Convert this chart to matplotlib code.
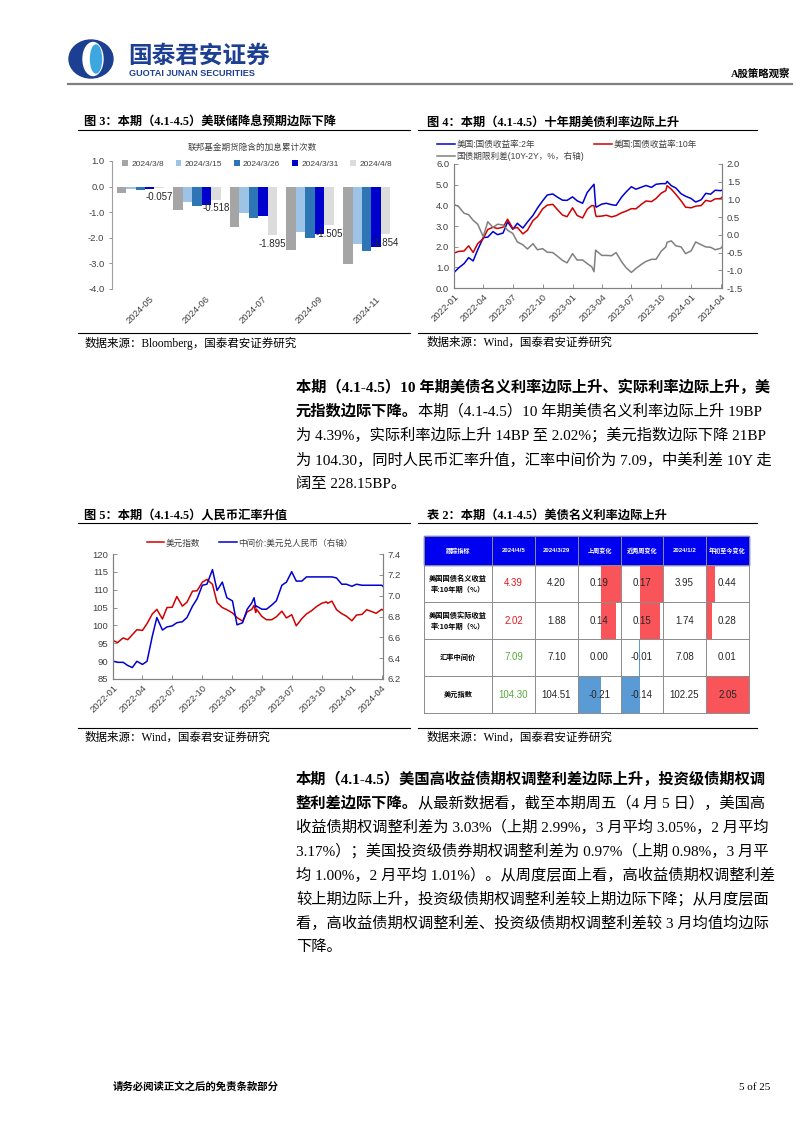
import numpy as np
import pandas as pd
import matplotlib
matplotlib.use('Agg')
import matplotlib.pyplot as plt
from matplotlib.patches import Rectangle, Ellipse
from matplotlib.ticker import FormatStrFormatter

# ------------------------------------------------------------------------------
# fonts
# ------------------------------------------------------------------------------
CJK = 'Noto Sans CJK SC'
SANS = ['Liberation Sans', CJK]
SERIF = ['Liberation Serif', CJK]
plt.rcParams['font.family'] = SANS
plt.rcParams['axes.unicode_minus'] = False

# ------------------------------------------------------------------------------
# data : fig 3 (fed funds futures, implied cumulative hikes)
# ------------------------------------------------------------------------------
fed_months = ['2024-05', '2024-06', '2024-07', '2024-09', '2024-11']
fed_dates = ['2024/3/8', '2024/3/15', '2024/3/26', '2024/3/31', '2024/4/8']
fed_0308 = [-0.25, -0.92, -1.58, -2.47, -3.04]
fed_0315 = [-0.08, -0.62, -1.05, -1.78, -2.25]
fed_0326 = [-0.13, -0.77, -1.21, -2.02, -2.50]
fed_0331 = [-0.10, -0.73, -1.15, -1.87, -2.34]
fed_0408 = [-0.057, -0.518, -1.895, -1.505, -1.854]

# ------------------------------------------------------------------------------
# data : fig 4 / fig 5 (semi-monthly readings)
# ------------------------------------------------------------------------------
dates = ['2022-01-03', '2022-01-15', '2022-02-01', '2022-02-15', '2022-03-01', '2022-03-15',
         '2022-04-01', '2022-04-15', '2022-05-01', '2022-05-15', '2022-06-01', '2022-06-15',
         '2022-07-01', '2022-07-15', '2022-08-01', '2022-08-15', '2022-09-01', '2022-09-15',
         '2022-10-01', '2022-10-15', '2022-11-01', '2022-11-15', '2022-12-01', '2022-12-15',
         '2023-01-01', '2023-01-15', '2023-02-01', '2023-02-15', '2023-03-01', '2023-03-08',
         '2023-03-13', '2023-03-15', '2023-04-01', '2023-04-15', '2023-05-01', '2023-05-15',
         '2023-06-01', '2023-06-15', '2023-07-01', '2023-07-15', '2023-08-01', '2023-08-15',
         '2023-09-01', '2023-09-15', '2023-10-01', '2023-10-15', '2023-10-19', '2023-11-01',
         '2023-11-15', '2023-12-01', '2023-12-15', '2024-01-01', '2024-01-15', '2024-02-01',
         '2024-02-15', '2024-03-01', '2024-03-15', '2024-04-01', '2024-04-05']

ust_2y = [0.78, 0.97, 1.18, 1.47, 1.31, 1.85, 2.44, 2.46, 2.73, 2.58, 2.66, 3.20,
          2.84, 3.13, 2.90, 3.19, 3.51, 3.87, 4.22, 4.50, 4.55, 4.40, 4.25, 4.24,
          4.41, 4.22, 4.10, 4.62, 4.89, 5.02, 3.98, 3.91, 4.06, 4.10, 4.03, 4.00,
          4.40, 4.65, 4.90, 4.78, 4.88, 4.96, 4.87, 5.02, 5.05, 5.05, 5.16, 4.95,
          4.84, 4.56, 4.44, 4.33, 4.16, 4.27, 4.58, 4.54, 4.73, 4.71, 4.73]
ust_10y = [1.70, 1.77, 1.79, 2.04, 1.72, 2.15, 2.39, 2.83, 2.94, 2.88, 2.94, 3.33,
           2.88, 2.93, 2.62, 2.79, 3.26, 3.45, 3.83, 4.01, 4.05, 3.80, 3.53, 3.45,
           3.88, 3.51, 3.39, 3.81, 3.99, 3.98, 3.55, 3.46, 3.48, 3.52, 3.44, 3.50,
           3.64, 3.72, 3.84, 3.83, 4.05, 4.21, 4.18, 4.33, 4.59, 4.71, 4.95, 4.78,
           4.53, 4.22, 3.91, 3.88, 3.96, 3.99, 4.24, 4.19, 4.31, 4.33, 4.39]
term_spread = [0.85, 0.80, 0.61, 0.57, 0.41, 0.30, -0.05, 0.37, 0.21, 0.30, 0.28, 0.13,
               0.04, -0.20, -0.28, -0.40, -0.25, -0.42, -0.39, -0.49, -0.50, -0.60, -0.72, -0.79,
               -0.53, -0.71, -0.71, -0.81, -0.90, -1.04, -0.43, -0.45, -0.58, -0.58, -0.59, -0.50,
               -0.76, -0.93, -1.06, -0.95, -0.83, -0.75, -0.69, -0.69, -0.46, -0.34, -0.21, -0.17,
               -0.31, -0.34, -0.53, -0.45, -0.20, -0.28, -0.34, -0.35, -0.42, -0.38, -0.34]

dxy = [95.7, 95.2, 96.5, 96.0, 97.4, 98.8, 98.6, 100.5, 103.2, 104.5, 101.8, 105.0,
       105.1, 108.1, 105.4, 106.5, 109.6, 109.7, 112.1, 112.9, 111.5, 106.4, 105.0, 104.4,
       103.5, 102.2, 101.2, 103.8, 104.5, 105.6, 103.6, 104.6, 102.5, 101.6, 101.6, 102.4,
       104.0, 102.1, 103.0, 99.9, 101.9, 103.2, 104.2, 105.3, 106.2, 106.6, 106.2, 106.8,
       104.4, 103.3, 102.6, 101.3, 102.9, 103.1, 104.4, 103.9, 103.4, 104.5, 104.3]
usdcny = [6.37, 6.36, 6.36, 6.33, 6.31, 6.37, 6.34, 6.37, 6.61, 6.79, 6.67, 6.70,
          6.71, 6.74, 6.75, 6.79, 6.90, 6.97, 7.10, 7.11, 7.25, 7.05, 7.13, 6.98,
          6.95, 6.72, 6.74, 6.87, 6.93, 6.98, 6.89, 6.90, 6.87, 6.87, 6.91, 6.95,
          7.10, 7.13, 7.23, 7.14, 7.14, 7.18, 7.18, 7.18, 7.18, 7.18, 7.18, 7.18,
          7.17, 7.11, 7.11, 7.09, 7.11, 7.10, 7.10, 7.10, 7.10, 7.10, 7.09]

# ------------------------------------------------------------------------------
# data : table 2
# ------------------------------------------------------------------------------
tbl_header = ['跟踪指标', '2024/4/5', '2024/3/29', '上周变化', '近两周变化', '2024/1/2', '年初至今变化']
tbl_names = ['美国国债名义收益\n率:10年期（%）', '美国国债实际收益\n率:10年期（%）', '汇率中间价', '美元指数']
val_0405 = [4.39, 2.02, 7.09, 104.30]
val_0329 = [4.20, 1.88, 7.10, 104.51]
chg_1w = [0.19, 0.14, 0.00, -0.21]
chg_2w = [0.17, 0.15, -0.01, -0.14]
val_0102 = [3.95, 1.74, 7.08, 102.25]
chg_ytd = [0.44, 0.28, 0.01, 2.05]
val_0405_color = ['#e8161c', '#e8161c', '#5aa83c', '#5aa83c']

# ------------------------------------------------------------------------------
# page
# ------------------------------------------------------------------------------
W, H = 802, 1133
fig = plt.figure(figsize=(W / 100, H / 100), dpi=100)


def box(x0, y0, x1, y1):
    return [x0 / W, 1 - y1 / H, (x1 - x0) / W, (y1 - y0) / H]


pg = fig.add_axes([0, 0, 1, 1])
pg.set_xlim(0, W)
pg.set_ylim(H, 0)
pg.axis('off')

# header
navy = '#1d3f92'
pg.add_patch(Ellipse((91, 59), 44, 38, color=navy))
pg.add_patch(Ellipse((93, 59), 20, 33, color='white'))
pg.add_patch(Ellipse((96, 59), 11, 28, color='#3ea7df'))
pg.text(128, 56, '国泰君安证券', family=CJK, weight='bold', fontsize=17, color=navy, va='center')
pg.text(129, 74, 'GUOTAI JUNAN SECURITIES', family='Liberation Sans', weight='bold', fontsize=6.6,
        color=navy, va='center')
pg.text(790, 74, 'A股策略观察', family=SERIF, weight='bold', fontsize=7.5, ha='right', va='center')
pg.plot([68, 792], [84, 84], color='#7f7f7f', lw=1.6)

# figure titles / sources
titles = [(84, 123, '图 3：本期（4.1-4.5）美联储降息预期边际下降'),
          (427, 123, '图 4：本期（4.1-4.5）十年期美债利率边际上升'),
          (84, 516, '图 5：本期（4.1-4.5）人民币汇率升值'),
          (427, 516, '表 2：本期（4.1-4.5）美债名义利率边际上升')]
for x, y, s in titles:
    pg.text(x, y, s, family=SERIF, weight='bold', fontsize=8.8, va='center')
for y in (130, 523, 333, 728):
    pg.plot([78, 410], [y, y], color='black', lw=0.8)
    pg.plot([418, 757], [y, y], color='black', lw=0.8)
sources = [(85, 343, '数据来源：Bloomberg，国泰君安证券研究'),
           (427, 343, '数据来源：Wind，国泰君安证券研究'),
           (85, 738, '数据来源：Wind，国泰君安证券研究'),
           (427, 738, '数据来源：Wind，国泰君安证券研究')]
for x, y, s in sources:
    pg.text(x, y, s, family=SERIF, fontsize=8.3, va='center')

# paragraphs
PX = 296
PFS = 11


def para_line(y, bold, normal=''):
    t = None
    if bold:
        t = pg.text(PX, y, bold, family=SERIF, weight='bold', fontsize=PFS, va='center')
    if normal:
        if t is None:
            pg.text(PX, y, normal, family=SERIF, fontsize=PFS, va='center')
        else:
            pg.annotate(normal, xy=(1, 0.5), xycoords=t, family=SERIF, fontsize=PFS,
                        va='center', ha='left')


para_line(387, '本期（4.1-4.5）10 年期美债名义利率边际上升、实际利率边际上升，美')
para_line(411, '元指数边际下降。', '本期（4.1-4.5）10 年期美债名义利率边际上升 19BP')
para_line(435, '', '为 4.39%，实际利率边际上升 14BP 至 2.02%；美元指数边际下降 21BP')
para_line(460, '', '为 104.30，同时人民币汇率升值，汇率中间价为 7.09，中美利差 10Y 走')
para_line(484, '', '阔至 228.15BP。')

para_line(779, '本期（4.1-4.5）美国高收益债期权调整利差边际上升，投资级债期权调')
para_line(803, '整利差边际下降。', '从最新数据看，截至本期周五（4 月 5 日），美国高')
para_line(827, '', '收益债期权调整利差为 3.03%（上期 2.99%，3 月平均 3.05%，2 月平均')
para_line(851, '', '3.17%）；美国投资级债券期权调整利差为 0.97%（上期 0.98%，3 月平')
para_line(875, '', '均 1.00%，2 月平均 1.01%）。从周度层面上看，高收益债期权调整利差')
para_line(899, '', '较上期边际上升，投资级债期权调整利差较上期边际下降；从月度层面')
para_line(923, '', '看，高收益债期权调整利差、投资级债期权调整利差较 3 月均值均边际')
para_line(947, '', '下降。')

# footer
pg.text(113, 1087, '请务必阅读正文之后的免责条款部分', family=CJK, weight='bold', fontsize=7.5, va='center')
pg.text(770, 1087, '5 of 25', family='Liberation Serif', fontsize=8, ha='right', va='center')

# ------------------------------------------------------------------------------
# fig 3 : grouped bars
# ------------------------------------------------------------------------------
ax3 = fig.add_axes(box(112, 161, 395, 289))
fed_series = [fed_0308, fed_0315, fed_0326, fed_0331, fed_0408]
fed_colors = ['#a5a5a5', '#9dc3e6', '#2e75b6', '#0000cc', '#dcdcdc']
xc = np.arange(len(fed_months)) + 0.5
bw = 0.167
for i, (vals, c, lab) in enumerate(zip(fed_series, fed_colors, fed_dates)):
    ax3.bar(xc + (i - 2) * bw, vals, bw, color=c, label=lab)
for x, v in zip(xc + 2 * bw, fed_0408):
    ax3.annotate('%.3f' % v, (x, v), xytext=(0, -2.5), textcoords='offset points',
                 ha='center', va='top', fontsize=7, color='#262626')
ax3.set_xlim(0, 5)
ax3.set_ylim(-4, 1)
ax3.set_yticks(np.arange(-4, 1.1, 1))
ax3.yaxis.set_major_formatter(FormatStrFormatter('%.1f'))
ax3.set_xticks(xc + 0.15)
ax3.set_xticklabels(fed_months, rotation=45, ha='right', rotation_mode='anchor')
ax3.tick_params(axis='x', length=0, labelsize=6.8, labelcolor='#404040', pad=4)
ax3.tick_params(axis='y', length=2, width=0.6, color='#808080', labelsize=6.8, labelcolor='#404040')
for s in ('top', 'right', 'bottom'):
    ax3.spines[s].set_visible(False)
ax3.spines['left'].set_color('#a0a0a0')
ax3.set_facecolor('none')
ax3.legend(ncol=5, loc='center', bbox_to_anchor=(257 / W, 1 - 164 / H), bbox_transform=fig.transFigure,
           frameon=False, fontsize=6, handlelength=0.7, handleheight=0.7, handletextpad=0.4,
           columnspacing=1.4, labelcolor='#404040')
pg.text(252, 147, '联邦基金期货隐含的加息累计次数', family=CJK, fontsize=6.2, color='#404040',
        ha='center', va='center')


def style_dual(ax, axr):
    for a in (ax, axr):
        a.tick_params(direction='in', length=3, width=0.6, color='#808080',
                      labelsize=6.8, labelcolor='#404040')
        a.spines['top'].set_visible(False)
        for s in ('left', 'right', 'bottom'):
            a.spines[s].set_color('#808080')
            a.spines[s].set_linewidth(0.8)
    ax.tick_params(axis='x', pad=3)
    ax.set_facecolor('none')


qticks = pd.date_range('2022-01-01', '2024-04-01', freq='QS')
t = pd.to_datetime(dates)

# ------------------------------------------------------------------------------
# fig 4 : UST yields
# ------------------------------------------------------------------------------
ax4 = fig.add_axes(box(454, 164, 722, 288))
ax4r = ax4.twinx()
h2, = ax4.plot(t, ust_2y, color='#0000d0', lw=1.1, label='美国:国债收益率:2年')
h10, = ax4.plot(t, ust_10y, color='#d00000', lw=1.1, label='美国:国债收益率:10年')
hs, = ax4r.plot(t, term_spread, color='#808080', lw=1.1, label='国债期限利差(10Y-2Y，%，右轴)')
ax4.set_ylim(0, 6)
ax4.set_yticks(np.arange(0, 6.1, 1))
ax4.yaxis.set_major_formatter(FormatStrFormatter('%.1f'))
ax4r.set_ylim(-1.5, 2.0)
ax4r.set_yticks(np.arange(-1.5, 2.01, 0.5))
ax4r.yaxis.set_major_formatter(FormatStrFormatter('%.1f'))
ax4.set_xlim(t[0] - pd.Timedelta(days=2), t[-1])
ax4.set_xticks(qticks)
ax4.set_xticklabels(qticks.strftime('%Y-%m'), rotation=45, ha='right', rotation_mode='anchor')
style_dual(ax4, ax4r)
ax4.legend(handles=[h2, hs, h10], ncol=2, loc='upper left', bbox_to_anchor=(433 / W, 1 - 136 / H),
           bbox_transform=fig.transFigure, frameon=False, fontsize=6.2, handlelength=2.0,
           handletextpad=0.2, columnspacing=1.2, labelspacing=0.3, borderpad=0, labelcolor='#404040')

# ------------------------------------------------------------------------------
# fig 5 : DXY and USDCNY fixing
# ------------------------------------------------------------------------------
ax5 = fig.add_axes(box(113, 554, 383, 679))
ax5r = ax5.twinx()
hd, = ax5.plot(t, dxy, color='#d00000', lw=1.1, label='美元指数')
hc, = ax5r.plot(t, usdcny, color='#0000d0', lw=1.1, label='中间价:美元兑人民币（右轴）')
ax5.set_ylim(85, 120)
ax5.set_yticks(np.arange(85, 121, 5))
ax5r.set_ylim(6.2, 7.4)
ax5r.set_yticks(np.arange(6.2, 7.41, 0.2))
ax5r.yaxis.set_major_formatter(FormatStrFormatter('%.1f'))
ax5.set_xlim(t[0] - pd.Timedelta(days=2), t[-1])
ax5.set_xticks(qticks)
ax5.set_xticklabels(qticks.strftime('%Y-%m'), rotation=45, ha='right', rotation_mode='anchor')
style_dual(ax5, ax5r)
ax5.legend(handles=[hd, hc], ncol=2, loc='center', bbox_to_anchor=(250 / W, 1 - 543 / H),
           bbox_transform=fig.transFigure, frameon=False, fontsize=6.2, handlelength=2.0,
           handletextpad=0.2, columnspacing=2.2, labelcolor='#404040')

# ------------------------------------------------------------------------------
# table 2
# ------------------------------------------------------------------------------
cols = [424, 492, 535, 578, 621, 663, 706, 749]
rows = [536, 565, 602, 639, 676, 713]
pg.add_patch(Rectangle((cols[0], rows[0]), cols[-1] - cols[0], rows[1] - rows[0],
                       color='#0000f0', zorder=1))

red_bar, blue_bar = '#f8545a', '#5b9bd5'
for ci, vals in ((3, chg_1w), (4, chg_2w), (6, chg_ytd)):
    axb = fig.add_axes(box(cols[ci], rows[1], cols[ci + 1], rows[-1]))
    axb.barh(np.arange(len(vals)), vals, height=1.0,
             color=[red_bar if v > 0 else blue_bar for v in vals])
    axb.set_ylim(len(vals) - 0.5, -0.5)
    axb.set_xlim(min(0, min(vals)), max(0, max(vals)))
    axb.axis('off')

ov = fig.add_axes([0, 0, 1, 1])
ov.set_xlim(0, W)
ov.set_ylim(H, 0)
ov.axis('off')
ov.set_zorder(20)
gc = '#8c8c8c'
for y in rows:
    ov.plot([cols[0], cols[-1]], [y, y], color=gc, lw=0.7)
for x in cols:
    ov.plot([x, x], [rows[0], rows[-1]], color=gc, lw=0.7)
for j, s in enumerate(tbl_header):
    ov.text((cols[j] + cols[j + 1]) / 2, (rows[0] + rows[1]) / 2, s, color='white', weight='bold',
            fontsize=4.4, ha='center', va='center')
tbl_cols = [val_0405, val_0329, chg_1w, chg_2w, val_0102, chg_ytd]
for i, name in enumerate(tbl_names):
    yc = (rows[i + 1] + rows[i + 2]) / 2
    ov.text((cols[0] + cols[1]) / 2, yc, name, family=CJK, weight='bold', fontsize=5.2,
            ha='center', va='center', linespacing=1.6)
    for j, vals in enumerate(tbl_cols):
        color = val_0405_color[i] if j == 0 else '#262626'
        ov.text((cols[j + 1] + cols[j + 2]) / 2, yc, '%.2f' % vals[i], fontsize=7, color=color,
                ha='center', va='center')

fig.savefig('out.png', dpi=100)
